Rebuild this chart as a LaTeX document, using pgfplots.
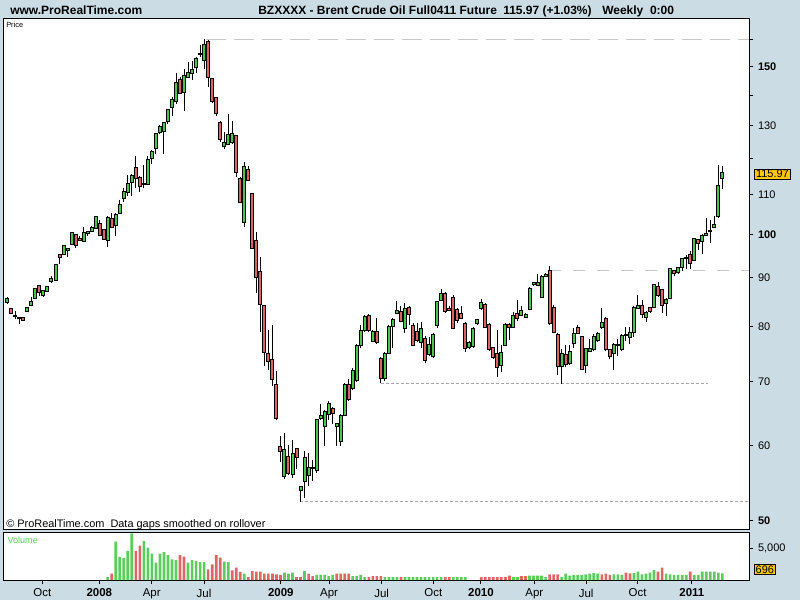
\documentclass[border=0pt]{standalone}
\usepackage{pgfplots}
\pgfplotsset{compat=1.18}
\usepackage{pgfplotstable}
\usepackage{fontspec}
\setmainfont{Liberation Sans}
\definecolor{bgc}{RGB}{203,220,229}
\definecolor{cgreen}{RGB}{72,200,72}
\definecolor{cred}{RGB}{220,100,100}
\definecolor{vgreen}{RGB}{92,204,92}
\definecolor{vred}{RGB}{224,102,102}
\definecolor{boxc}{RGB}{255,200,0}
\definecolor{lgray}{RGB}{200,200,200}
\definecolor{dgray}{RGB}{165,165,165}

% weekly candles: index, open, high, low, close
\pgfplotstableread{
i o h l c
0 84.7 86.0 84.5 85.7
3 81.6 81.8 80.5 81.75
5 82.9 83.9 82.8 83.8
6 84.1 85.9 84.0 85.0
7 85.7 87.8 85.6 87.7
9 86.2 87.4 85.9 87.3
10 87.1 88.2 87.0 88.1
11 89.3 90.3 88.9 89.8
12 89.4 93.1 89.3 93.0
14 95.2 97.5 95.1 97.4
15 96.2 96.8 94.6 96.7
16 97.6 100.6 97.5 100.5
19 98.2 101.7 98.1 100.5
20 100.2 100.8 99.7 100.7
21 100.7 102.1 100.6 101.6
22 101.5 104.6 101.4 104.5
25 98.5 104.5 97.0 104.2
27 102.2 105.3 99.5 104.8
28 105.2 108.7 105.1 107.4
29 109.1 111.9 108.2 110.8
30 110.5 115.3 109.6 113.1
31 113.4 115.6 109.6 115.2
34 112.8 118.3 111.9 113.1
35 112.8 120.7 112.7 119.9
36 120.2 122.5 118.6 122.2
37 122.9 127.8 121.4 127.6
38 127.9 130.2 127.5 129.8
39 128.2 131.3 121.4 131.1
40 131.4 135.5 130.5 135.3
41 136.0 139.5 133.0 138.4
42 137.9 147.6 137.0 144.5
44 141.0 149.0 134.7 146.9
45 146.1 151.7 145.8 147.8
46 147.5 152.1 145.2 148.8
47 149.6 153.5 147.6 152.9
48 154.4 158.0 153.5 154.8
49 152.1 160.3 149.0 158.1
54 123.7 128.2 123.0 124.9
55 124.3 133.8 124.0 127.3
56 124.9 131.4 124.5 127.6
59 102.9 119.1 101.7 117.9
69 55.7 61.9 55.3 59.4
71 55.9 60.8 55.5 58.9
73 53.8 54.4 52.4 54.3
74 55.0 59.2 52.8 58.3
75 55.8 59.0 54.4 56.9
76 56.7 57.9 55.1 56.9
77 56.5 63.9 56.2 63.9
78 64.1 66.3 63.8 64.6
79 62.8 65.4 60.0 65.2
80 64.7 66.8 63.8 66.4
82 62.8 63.4 60.0 63.3
83 60.6 64.7 60.0 64.6
84 64.6 69.8 64.5 69.6
86 68.8 72.4 68.6 71.9
87 70.2 76.7 70.0 76.5
88 76.5 80.4 75.9 79.2
89 79.2 82.3 79.0 82.0
91 77.2 79.3 77.0 79.1
94 70.5 75.2 70.2 75.0
95 75.0 80.3 74.8 80.1
96 80.1 81.6 75.9 81.4
97 82.6 85.1 82.4 83.2
99 79.7 84.6 78.8 83.6
103 77.0 80.9 76.0 79.6
105 74.8 78.1 74.6 76.7
106 74.4 78.8 74.2 78.5
107 80.2 85.2 79.8 85.0
108 85.3 87.7 85.1 86.7
115 76.0 77.2 75.8 77.0
116 76.2 79.9 76.0 79.7
117 80.6 81.5 80.4 81.3
118 83.5 85.5 83.3 84.8
123 72.9 76.6 71.6 75.2
124 76.5 80.6 76.3 80.4
126 79.9 82.9 79.7 82.2
128 82.2 84.1 82.0 83.1
129 81.8 82.6 81.6 82.4
130 83.4 88.0 83.2 87.8
131 88.5 89.2 88.3 88.9
132 88.4 90.9 88.2 89.1
133 85.9 90.6 85.7 90.3
134 90.4 91.0 90.2 90.7
138 72.7 75.8 69.6 75.0
140 73.1 76.6 72.9 75.4
141 76.8 79.7 76.0 78.7
144 72.9 76.0 71.5 75.8
145 75.4 77.7 75.2 75.8
146 75.6 78.6 75.4 78.1
147 77.3 78.9 77.1 78.7
148 79.8 83.6 79.6 80.8
151 75.0 76.9 72.0 76.7
152 76.4 77.6 74.5 76.7
153 75.7 78.5 75.5 78.3
154 78.3 80.0 77.2 78.5
155 77.9 80.0 76.7 78.9
156 78.9 84.0 78.0 83.8
157 83.6 86.3 83.4 84.2
159 81.7 83.0 80.9 82.8
161 83.8 88.7 83.6 88.5
164 84.6 85.7 82.1 85.5
165 85.7 92.2 85.5 92.0
167 91.1 92.5 90.9 92.3
168 92.2 94.4 91.6 94.2
169 94.3 95.2 92.0 94.6
171 93.9 99.1 93.7 98.9
173 98.3 100.0 95.3 99.8
174 99.8 104.0 99.6 100.2
175 100.7 103.5 98.0 100.9
176 101.7 104.6 101.5 102.5
177 104.4 118.3 104.0 112.5
178 114.5 118.0 111.5 115.97
}\upc

\pgfplotstableread{
i o h l c
1 83.5 83.6 82.5 82.6
2 82.1 83.1 81.5 81.9
4 81.7 81.8 81.1 81.2
8 88.4 88.5 86.2 86.9
13 95.2 95.3 93.0 94.6
17 100.0 100.1 96.7 97.4
18 99.1 99.7 98.5 98.6
23 102.7 103.5 99.7 99.8
24 101.2 101.3 98.7 98.8
26 104.0 105.2 101.6 101.7
32 117.6 120.7 111.9 114.3
33 114.8 115.0 110.8 112.2
43 145.4 146.4 140.3 140.5
50 159.5 160.0 142.9 146.1
51 145.8 146.0 137.3 138.0
52 139.3 139.5 133.0 133.8
53 131.1 131.5 124.9 125.8
57 127.0 127.2 114.9 116.2
58 114.5 114.9 107.8 108.0
60 117.0 118.0 113.8 114.0
61 110.3 110.5 96.5 96.7
62 98.5 100.5 86.7 90.0
63 91.5 94.6 79.0 84.4
64 84.1 84.3 72.8 75.2
65 75.0 79.3 72.0 73.5
66 73.9 80.3 69.3 70.4
67 69.5 71.9 63.8 64.0
68 59.9 61.4 57.6 59.1
70 58.4 60.1 55.9 56.1
72 59.6 59.7 56.7 58.3
81 65.7 65.8 63.2 64.9
85 69.6 70.4 66.8 67.0
90 82.2 82.5 79.0 79.2
92 79.0 81.6 76.7 76.9
93 74.1 74.3 69.8 70.5
98 83.0 84.1 80.8 81.0
100 83.8 84.0 80.3 82.4
101 80.2 80.7 76.3 76.5
102 79.0 80.7 77.0 77.3
104 77.7 78.3 73.2 73.7
109 86.7 86.9 82.7 82.9
110 83.6 84.0 83.0 83.2
111 85.8 86.3 79.5 79.7
112 83.4 83.6 80.6 81.2
113 82.6 84.1 81.4 81.6
114 80.6 80.8 75.3 75.9
119 84.4 84.6 79.7 79.9
120 80.4 80.6 75.4 75.6
121 76.0 76.2 74.0 74.2
122 75.0 79.4 70.8 72.4
125 80.4 80.6 77.5 79.9
127 82.6 85.4 81.0 81.6
135 91.6 92.7 80.4 80.6
136 83.7 84.2 78.7 78.9
137 78.5 78.7 71.2 72.7
139 74.8 76.6 72.6 73.0
142 79.9 80.3 78.5 78.7
143 78.1 78.3 72.0 72.2
149 81.6 81.8 75.4 75.6
150 75.6 75.8 73.9 74.4
158 84.2 85.4 81.6 82.4
160 83.7 83.9 82.7 82.9
162 88.1 89.2 86.0 86.2
163 87.5 87.7 82.6 84.1
166 91.6 91.8 90.5 90.9
170 95.2 96.1 92.0 93.2
172 98.7 98.9 96.3 97.9
}\downc

\pgfplotstableread{
i v
25 470
27 6030
28 3620
29 3460
30 4560
31 7340
34 6130
35 5080
36 4140
37 2720
38 4140
39 4400
40 3930
41 3250
42 3140
45 2720
46 3140
47 2990
48 2830
49 2830
54 2880
55 2830
59 1000
69 1150
70 1000
71 1150
74 1415
77 790
78 790
79 790
80 630
81 790
86 630
87 630
88 790
89 470
94 470
95 470
96 470
97 470
99 470
100 470
101 470
102 470
103 470
104 470
105 470
106 470
107 470
108 470
111 470
112 470
113 470
114 470
126 470
127 470
130 680
131 680
132 680
133 680
134 470
138 470
139 1000
140 680
141 790
142 790
143 790
144 890
145 1000
146 1100
147 1000
151 890
152 890
153 790
156 1100
157 1310
158 890
159 1000
160 1150
161 1570
164 1000
165 890
166 790
167 790
168 790
169 790
171 790
172 790
173 1310
174 1310
175 1310
176 1310
177 1150
178 1050
}\volup

\pgfplotstableread{
i v
26 1000
32 4560
33 5400
43 3930
44 3670
50 1680
51 2460
52 3930
53 3510
56 1520
57 1940
58 1260
60 470
61 1415
62 1310
63 1310
64 1000
65 1000
66 1000
67 890
68 790
72 470
73 470
75 1000
76 630
82 1000
83 1000
84 1000
85 1000
90 470
91 630
92 630
93 630
98 470
109 470
110 470
118 470
119 470
120 470
121 470
122 470
123 470
124 470
125 680
128 630
129 630
135 890
136 890
137 890
148 890
149 1000
150 790
154 1150
155 1050
162 1310
163 1940
170 1310
}\voldown

\pgfplotsset{
  wick/.style={draw=none, mark=none, forget plot,
    error bars/.cd, y dir=plus, y explicit, error mark=none,
    error bar style={draw=black, line width=0.75pt, line cap=butt, solid}},
  body/.style 2 args={draw=none, mark=none, forget plot,
    error bars/.cd, y dir=plus, y explicit, error mark=none,
    error bar style={draw=#1, line width=#2, line cap=butt, solid}},
  cap/.style={only marks, mark=-, mark size=1.5pt, forget plot,
    mark options={draw=black, line width=0.75pt, solid}},
}

\begin{document}
\begin{tikzpicture}
\path[use as bounding box] (0pt,0pt) rectangle (600pt,-450pt);
\fill[bgc] (0pt,0pt) rectangle (600pt,-450pt);

% header
\node[anchor=base west, inner sep=0pt, font=\fontsize{9}{10}\selectfont\bfseries] at (7.5pt,-10.5pt) {www.ProRealTime.com};
\node[anchor=base west, inner sep=0pt, font=\fontsize{9}{10}\selectfont\bfseries] at (193.5pt,-10.5pt) {BZXXXX - Brent Crude Oil Full0411 Future};
\node[anchor=base west, inner sep=0pt, font=\fontsize{9}{10}\selectfont\bfseries] at (377.25pt,-10.5pt) {115.97 (+1.03\%)};
\node[anchor=base west, inner sep=0pt, font=\fontsize{9}{10}\selectfont\bfseries] at (451.5pt,-10.5pt) {Weekly\ \ 0:00};

% price panel
\begin{axis}[
  at={(2.25pt,-13.725pt)}, anchor=north west,
  scale only axis, width=559.725pt, height=383.25pt,
  xmin=-1.07, xmax=184.71,
  ymode=log, ymin=49.006, ymax=168.58,
  axis background/.style={fill=white},
  axis line style={line width=0.75pt},
  xtick=\empty,
  ytick={50,60,70,80,90,100,110,130,150},
  yticklabels={\textbf{50},60,70,80,90,\textbf{100},110,130,\textbf{150}},
  extra y ticks={120,140,160}, extra y tick labels={},
  extra y tick style={ytick pos=right, tick align=outside},
  yminorticks=false,
  ytick pos=right, yticklabel pos=right,
  tick align=outside, major tick length=3pt,
  tick style={black, line width=0.75pt},
  yticklabel style={font=\fontsize{8.25}{9}\selectfont},
]
\addplot[lgray, line width=0.75pt, dash pattern=on 15pt off 6pt, forget plot] coordinates {(49.46,160) (184.71,160)};
\addplot[lgray, line width=0.75pt, dash pattern=on 9pt off 9pt, forget plot] coordinates {(134.85,91.7) (184.71,91.7)};
\addplot[dgray, line width=0.75pt, dash pattern=on 2.25pt off 1.5pt, forget plot] coordinates {(93.03,69.8) (174.4,69.8)};
\addplot[dgray, line width=0.75pt, dash pattern=on 2.25pt off 1.5pt, forget plot] coordinates {(72.9,52.35) (184.71,52.35)};

% wicks
\addplot[wick] table[x=i, y=l, y error expr=\thisrow{h}-\thisrow{l}] {\upc};
\addplot[wick] table[x=i, y=l, y error expr=\thisrow{h}-\thisrow{l}] {\downc};
% bodies: outline
\addplot[body={black}{3pt}] table[x=i, y=o, y error expr=\thisrow{c}-\thisrow{o}] {\upc};
\addplot[body={black}{3pt}] table[x=i, y=c, y error expr=\thisrow{o}-\thisrow{c}] {\downc};
% bodies: fill
\addplot[body={cgreen}{1.5pt}] table[x=i, y=o, y error expr=\thisrow{c}-\thisrow{o}] {\upc};
\addplot[body={cred}{1.5pt}] table[x=i, y=c, y error expr=\thisrow{o}-\thisrow{c}] {\downc};
% body ends
\addplot[cap] table[x=i, y=o] {\upc};
\addplot[cap] table[x=i, y=c] {\upc};
\addplot[cap] table[x=i, y=o] {\downc};
\addplot[cap] table[x=i, y=c] {\downc};
\end{axis}

% volume panel
\begin{axis}[
  at={(2.25pt,-399.225pt)}, anchor=north west,
  scale only axis, width=559.725pt, height=35.775pt,
  xmin=-1.07, xmax=184.71, ymin=0, ymax=7498,
  axis background/.style={fill=white},
  axis line style={line width=0.75pt},
  xtick={8.71,22.9,35.95,48.97,68.1,80.1,93.2,106.05,117.9,131.2,144.1,156.9,170.4},
  xticklabels={Oct,\textbf{2008},Apr,Jul,\textbf{2009},Apr,Jul,Oct,\textbf{2010},Apr,Jul,Oct,\textbf{2011}},
  xtick pos=bottom,
  ytick={5000}, yticklabels={5{,}000},
  ytick pos=right, yticklabel pos=right,
  tick align=outside, major tick length=3pt,
  tick style={black, line width=0.75pt},
  yticklabel style={font=\fontsize{8.25}{9}\selectfont},
  xticklabel style={font=\fontsize{8.6}{9}\selectfont},
]
\addplot[ybar, bar width=2pt, bar shift=0pt, fill=vgreen, draw=none] table[x=i, y=v] {\volup};
\addplot[ybar, bar width=2pt, bar shift=0pt, fill=vred, draw=none] table[x=i, y=v] {\voldown};
\end{axis}

% labels
\node[anchor=base west, inner sep=0pt, font=\fontsize{5.6}{6}\selectfont] at (4.5pt,-20.25pt) {Price};
\node[anchor=base west, inner sep=0pt, font=\fontsize{8.2}{9}\selectfont] at (4.5pt,-395.25pt) {\textcopyright\ ProRealTime.com\ \ Data gaps smoothed on rollover};
\node[anchor=base west, inner sep=0pt, text=vgreen, font=\fontsize{6.8}{7}\selectfont] at (5.5pt,-407.25pt) {Volume};
\node[anchor=west, draw=black, line width=0.6pt, fill=boxc, inner xsep=1pt, inner ysep=1pt, font=\fontsize{8.25}{9}\selectfont] at (565.7pt,-130.6pt) {115.97};
\node[anchor=west, draw=black, line width=0.6pt, fill=boxc, inner xsep=1pt, inner ysep=1pt, font=\fontsize{8.25}{9}\selectfont] at (565.5pt,-427.1pt) {696};
\end{tikzpicture}
\end{document}
